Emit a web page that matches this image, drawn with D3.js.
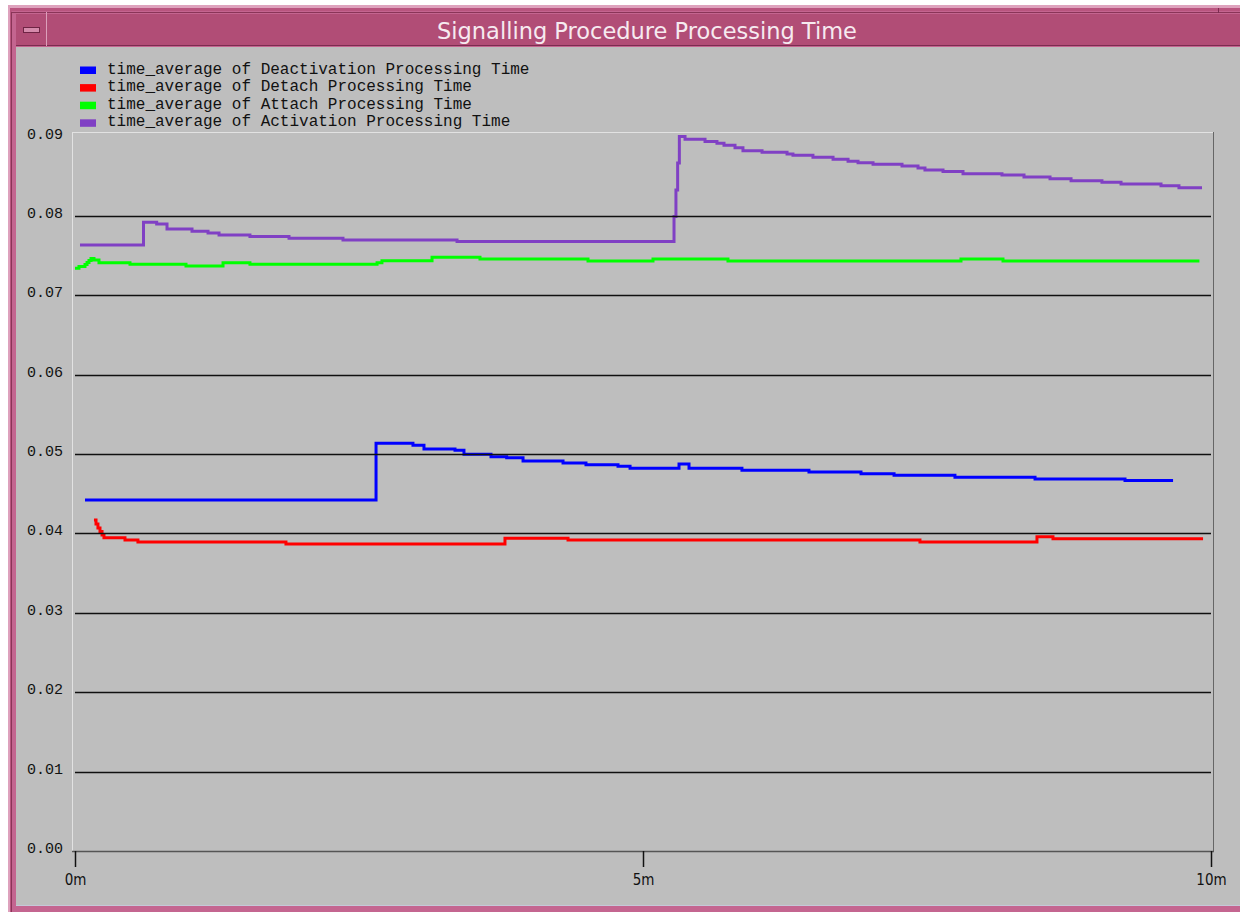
<!DOCTYPE html>
<html>
<head>
<meta charset="utf-8">
<script src="https://cdn.jsdelivr.net/npm/d3@7/dist/d3.min.js"></script>
<style>
  html, body { margin: 0; padding: 0; background: #fff; }
  svg { display: block; }
</style>
</head>
<body>
<svg id="chart" width="1240" height="912"></svg>
<script>
'use strict'

// step data: [minute, value] -> value holds from that minute on
const deactivation = [
  [0.088, 0.04422], [2.650, 0.05137], [2.975, 0.05112], [3.072, 0.05065], [3.345, 0.05048],
  [3.424, 0.04998], [3.662, 0.04968], [3.800, 0.04955], [3.944, 0.04914], [4.296, 0.04889],
  [4.498, 0.04867], [4.780, 0.04847], [4.886, 0.04822], [5.317, 0.04876], [5.405, 0.04822],
  [5.871, 0.04797], [6.461, 0.04775], [6.919, 0.04754], [7.210, 0.04733], [7.746, 0.04708],
  [8.451, 0.04687], [9.243, 0.04666], [9.666, 0.04666]
]
const detach = [
  [0.167, 0.04170], [0.185, 0.04120], [0.202, 0.04070], [0.220, 0.04025], [0.238, 0.03981],
  [0.255, 0.03947], [0.440, 0.03918], [0.554, 0.03893], [1.857, 0.03868], [3.785, 0.03940],
  [4.340, 0.03918], [7.438, 0.03893], [8.468, 0.03960], [8.609, 0.03935], [9.930, 0.03935]
]
const attach = [
  [0.000, 0.07342], [0.035, 0.07362], [0.088, 0.07390], [0.106, 0.07415], [0.123, 0.07440],
  [0.141, 0.07465], [0.167, 0.07446], [0.211, 0.07412], [0.484, 0.07392], [0.977, 0.07371],
  [1.303, 0.07412], [1.540, 0.07392], [2.659, 0.07412], [2.702, 0.07437], [3.143, 0.07480],
  [3.565, 0.07459], [4.516, 0.07434], [5.088, 0.07459], [5.748, 0.07434], [7.799, 0.07459],
  [8.169, 0.07434], [9.898, 0.07434]
]
const activation = [
  [0.044, 0.07635], [0.603, 0.07921], [0.719, 0.07900], [0.810, 0.07837], [1.030, 0.07808],
  [1.171, 0.07786], [1.268, 0.07761], [1.540, 0.07740], [1.884, 0.07720], [2.359, 0.07698],
  [3.363, 0.07677], [5.273, 0.07992], [5.290, 0.08328], [5.305, 0.08668], [5.320, 0.09000],
  [5.370, 0.08967], [5.546, 0.08937], [5.651, 0.08916], [5.713, 0.08891], [5.810, 0.08861],
  [5.880, 0.08823], [6.048, 0.08803], [6.268, 0.08782], [6.320, 0.08765], [6.496, 0.08740],
  [6.673, 0.08715], [6.805, 0.08690], [6.893, 0.08672], [7.025, 0.08652], [7.280, 0.08630],
  [7.421, 0.08605], [7.482, 0.08580], [7.641, 0.08559], [7.817, 0.08533], [8.160, 0.08517],
  [8.354, 0.08492], [8.583, 0.08470], [8.768, 0.08445], [9.040, 0.08425], [9.208, 0.08404],
  [9.560, 0.08382], [9.718, 0.08357], [9.921, 0.08357]
]

const seriesNames = [
  'time_average of Deactivation Processing Time',
  'time_average of Detach Processing Time',
  'time_average of Attach Processing Time',
  'time_average of Activation Processing Time'
]
const seriesColors = ['#0000ff', '#ff0000', '#00ff00', '#8040c4']
const seriesData = [deactivation, detach, attach, activation]

const yTicks = [0, 0.01, 0.02, 0.03, 0.04, 0.05, 0.06, 0.07, 0.08, 0.09]
const gridValues = [0.01, 0.02, 0.03, 0.04, 0.05, 0.06, 0.07, 0.08]
const xTicks = [0, 5, 10]
const chartTitle = 'Signalling Procedure Processing Time'

const svg = d3.select('#chart')

// ---- window frame ----
svg.append('rect').attr('x', 8).attr('y', 5).attr('width', 1232).attr('height', 907).attr('fill', '#dea2bd')
svg.append('rect').attr('x', 10).attr('y', 8).attr('width', 1230).attr('height', 904).attr('fill', '#b9557f')
svg.append('rect').attr('x', 12).attr('y', 11).attr('width', 1228).attr('height', 901).attr('fill', '#c46590')
svg.append('rect').attr('x', 16).attr('y', 14).attr('width', 1224).attr('height', 32).attr('fill', '#b14d76')
svg.append('line').attr('x1', 12).attr('x2', 1240).attr('y1', 12.5).attr('y2', 12.5).attr('stroke', '#8a3558')
svg.append('line').attr('x1', 16).attr('x2', 1240).attr('y1', 45.5).attr('y2', 45.5).attr('stroke', '#7c2c50')
svg.append('line').attr('x1', 11.5).attr('x2', 11.5).attr('y1', 12).attr('y2', 912).attr('stroke', '#8a3558')
svg.append('line').attr('x1', 46.5).attr('x2', 46.5).attr('y1', 12).attr('y2', 46).attr('stroke', '#dca0bb')
svg.append('line').attr('x1', 1218.5).attr('x2', 1218.5).attr('y1', 8).attr('y2', 13).attr('stroke', '#7c2c50')
svg.append('rect').attr('x', 23.5).attr('y', 27.5).attr('width', 16).attr('height', 5)
  .attr('fill', '#d58aab').attr('stroke', '#6e2444')

svg.append('rect').attr('x', 16).attr('y', 47).attr('width', 1224).attr('height', 858).attr('fill', '#bebebe')
svg.append('line').attr('x1', 16).attr('x2', 1240).attr('y1', 905.5).attr('y2', 905.5).attr('stroke', '#c6c8d8')

svg.append('text')
  .attr('x', 647).attr('y', 38.5)
  .attr('text-anchor', 'middle')
  .attr('font-family', 'DejaVu Sans, sans-serif')
  .attr('font-size', 22.5)
  .attr('fill', '#f6eaf0')
  .text(chartTitle)

// ---- plot ----
const x = d3.scaleLinear().domain([0, 10]).range([75, 1211])
const y = d3.scaleLinear().domain([0, 0.09]).range([851, 136.6])

const plot = svg.append('g')

// sunken frame
plot.append('line').attr('x1', 72.5).attr('x2', 72.5).attr('y1', 132).attr('y2', 851).attr('stroke', '#e2e2e2')
plot.append('line').attr('x1', 72).attr('x2', 1213).attr('y1', 132.5).attr('y2', 132.5).attr('stroke', '#e2e2e2')
plot.append('line').attr('x1', 1213.5).attr('x2', 1213.5).attr('y1', 132).attr('y2', 852).attr('stroke', '#666')
plot.append('line').attr('x1', 72).attr('x2', 1214).attr('y1', 851.5).attr('y2', 851.5).attr('stroke', '#555').attr('stroke-width', 1.4)

const lineMaker = d3.line()
  .x(d => x(d[0]))
  .y(d => y(d[1]))
  .curve(d3.curveStepAfter)

plot.selectAll('path.series')
  .data(seriesData)
  .enter()
  .append('path')
  .attr('class', 'series')
  .attr('d', d => lineMaker(d))
  .attr('fill', 'none')
  .attr('stroke', (d, i) => seriesColors[i])
  .attr('stroke-width', 3)
  .attr('stroke-linejoin', 'miter')

// grid lines sit on top of the traces, as in the original
plot.selectAll('line.grid')
  .data(gridValues)
  .enter()
  .append('line')
  .attr('class', 'grid')
  .attr('x1', x(0)).attr('x2', x(10))
  .attr('y1', d => Math.round(y(d)) + 0.5)
  .attr('y2', d => Math.round(y(d)) + 0.5)
  .attr('stroke', '#101010')
  .attr('stroke-width', 1.6)

// y axis labels
const yAxis = plot.append('g')
  .attr('transform', 'translate(72,0)')
  .call(d3.axisLeft(y).tickValues(yTicks).tickSize(0).tickPadding(9).tickFormat(d3.format('.2f')))
yAxis.select('.domain').remove()
yAxis.selectAll('text')
  .attr('dy', '0.1em')
  .attr('font-family', 'Liberation Mono, monospace')
  .attr('font-size', 15)
  .attr('fill', '#111')

// x axis
const xAxis = plot.append('g')
  .attr('transform', 'translate(0,851)')
  .call(d3.axisBottom(x).tickValues(xTicks).tickSize(16).tickPadding(7).tickFormat(d => d + 'm'))
xAxis.select('.domain').remove()
xAxis.selectAll('line').attr('stroke', '#111').attr('stroke-width', 1.5)
xAxis.selectAll('text')
  .attr('font-family', 'Liberation Sans Narrow, DejaVu Sans Condensed, sans-serif')
  .attr('font-size', 15)
  .attr('fill', '#111')

// ---- legend ----
const legend = svg.append('g').attr('transform', 'translate(80,66)')
const legendRows = legend.selectAll('g')
  .data(seriesNames)
  .enter()
  .append('g')
  .attr('transform', (d, i) => `translate(0,${i * 17.6})`)
legendRows.append('rect')
  .attr('x', 0).attr('y', 0.5).attr('width', 16).attr('height', 7.5)
  .attr('fill', (d, i) => seriesColors[i])
legendRows.append('text')
  .attr('x', 27).attr('y', 7.5)
  .attr('font-family', 'Liberation Mono, monospace')
  .attr('font-size', 16)
  .attr('fill', '#111')
  .text(d => d)
</script>
</body>
</html>
